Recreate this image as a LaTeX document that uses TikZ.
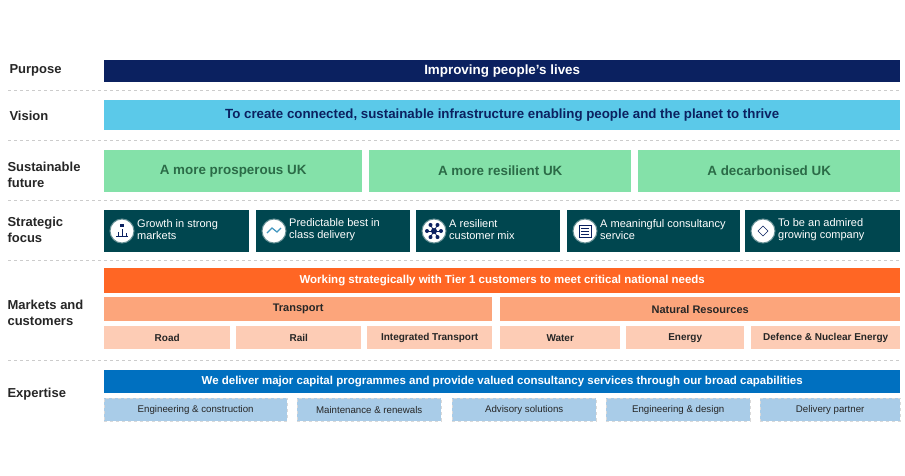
\documentclass[tikz,border=0pt]{standalone}
\usepackage{fontspec}
\setmainfont{Liberation Sans}
\begin{document}
\begin{tikzpicture}[x=1pt,y=-1pt,
 lab/.style={anchor=west,align=left,font=\bfseries\fontsize{13}{16}\selectfont,text=black!85},
 sep/.style={draw=black!20,dashed,line width=0.6pt},
 bx/.style={inner sep=0pt,anchor=north west},
 ic/.style={circle,fill=white,minimum size=24pt,inner sep=0pt,draw=sfc!60!white,line width=1pt}]
\definecolor{sfc}{HTML}{00464F}
\definecolor{navy}{HTML}{0B2160}
\definecolor{vis}{HTML}{5BC9E9}
\definecolor{grn}{HTML}{84E1A9}
\definecolor{grt}{HTML}{2B6B47}
\definecolor{org}{HTML}{FF6624}
\definecolor{or2}{HTML}{FCA57B}
\definecolor{or3}{HTML}{FDCCB5}
\definecolor{blu}{HTML}{0070C0}
\definecolor{lbl}{HTML}{A9CCE8}
\useasboundingbox (0,0) rectangle (905,475);
% labels
\node[lab] (l1) at (6,70) {Purpose};
\node[lab] (l2) at (6,116) {Vision};
\node[lab] (l3) at (4,175) {Sustainable\\future};
\node[lab] (l4) at (4,230) {Strategic\\focus};
\node[lab] (l5) at (4,313) {Markets and\\customers};
\node[lab] (l6) at (4,394) {Expertise};
% separators
\foreach \y/\n in {90/a,140/b,200/c,260/d,360/e}{
 \coordinate (s\n1) at (8,\y); \coordinate (s\n2) at (900,\y);
 \draw[sep] (s\n1) -- (s\n2);}
% purpose
\node[bx,fill=navy,minimum width=796pt,minimum height=22pt,text=white,font=\bfseries\fontsize{13.4}{15}\selectfont] (p) at (104,60) {Improving people's lives};
\node[bx,fill=vis,minimum width=796pt,minimum height=30pt,text=navy,font=\bfseries\fontsize{13.3}{15}\selectfont] (v) at (104,100) {To create connected, sustainable infrastructure enabling people and the planet to thrive};
% sustainable
\foreach \a/\b/\t/\n in {104/362/A more prosperous UK/g1,369/631/A more resilient UK/g2,638/900/A decarbonised UK/g3}{
 \node[bx,fill=grn,minimum width=\b pt-\a pt,minimum height=42pt,text=grt,font=\bfseries\fontsize{13.4}{15}\selectfont] (\n) at (\a,150) {\t};}
% strategic
\foreach \a/\b/\t/\n in {104/249/{Growth in strong\\markets}/f1,256/410/{Predictable best in\\class delivery}/f2,416/560/{A resilient\\customer mix}/f3,567/740/{A meaningful consultancy\\service}/f4,745/900/{To be an admired\\growing company}/f5}{
 \node[bx,fill=sfc,minimum width=\b pt-\a pt,minimum height=42pt] (\n) at (\a,210) {};
 \node[ic] (\n i) at (\a+18,231) {};
 \node[anchor=west,align=left,text=white,inner sep=0pt,font=\fontsize{11}{12}\selectfont] (\n t) at (\a+33,230) {\t};}
% icon glyphs
\draw[navy,line width=0.8pt] ([shift={(-6,5)}]f1i.center) -- ++(12,0) ([shift={(-4,5)}]f1i.center) -- ++(0,-4) ([shift={(0,5)}]f1i.center) -- ++(0,-7) ([shift={(4,5)}]f1i.center) -- ++(0,-3);
\fill[navy] ([shift={(-2,-7)}]f1i.center) rectangle ([shift={(2,-4)}]f1i.center);
\draw[vis!70!navy,line width=1.2pt] ([shift={(-7,2)}]f2i.center) -- ([shift={(-2,-3)}]f2i.center) -- ([shift={(3,1)}]f2i.center) -- ([shift={(7,-3)}]f2i.center);
\foreach \ang in {0,60,...,300}{\draw[navy,line width=0.8pt] (f3i.center) -- ++(\ang:7); \fill[navy] ([shift={(\ang:7)}]f3i.center) circle (2);}
\fill[navy] (f3i.center) circle (3);
\draw[navy,line width=0.7pt] ([shift={(-6,-6)}]f4i.center) rectangle ([shift={(6,6)}]f4i.center);
\foreach \d in {-3,0,3}{\draw[navy,line width=0.5pt] ([shift={(-4,\d)}]f4i.center) -- ++(8,0);}
\draw[navy,line width=0.6pt] ([shift={(0,-5)}]f5i.center) -- ([shift={(5,0)}]f5i.center) -- ([shift={(0,5)}]f5i.center) -- ([shift={(-5,0)}]f5i.center) -- cycle;
% markets
\node[bx,fill=org,minimum width=796pt,minimum height=25pt,text=white,font=\bfseries\fontsize{11.5}{13}\selectfont] (m) at (104,268) {Working strategically with Tier 1 customers to meet critical national needs};
\foreach \a/\b/\t/\n in {104/492/Transport/t1,500/900/Natural Resources/t2}{
 \node[bx,fill=or2,minimum width=\b pt-\a pt,minimum height=24pt,text=black!85,font=\bfseries\fontsize{11}{12}\selectfont] (\n) at (\a,297) {\t};}
\foreach \a/\b/\t/\n in {104/230/Road/r1,236/361/Rail/r2,367/492/Integrated Transport/r3,500/620/Water/r4,626/744/Energy/r5,751/900/Defence \& Nuclear Energy/r6}{
 \node[bx,fill=or3,minimum width=\b pt-\a pt,minimum height=23pt,text=black!85,font=\bfseries\fontsize{10}{11}\selectfont] (\n) at (\a,326) {\t};}
% expertise
\node[bx,fill=blu,minimum width=796pt,minimum height=23pt,text=white,font=\bfseries\fontsize{11.5}{12}\selectfont] (e) at (104,370) {We deliver major capital programmes and provide valued consultancy services through our broad capabilities};
\foreach \a/\b/\t/\n in {104/287/Engineering \& construction/x1,297/441/Maintenance \& renewals/x2,452/596/Advisory solutions/x3,606/750/Engineering \& design/x4,760/900/Delivery partner/x5}{
 \node[bx,fill=lbl,draw=black!15,dashed,minimum width=\b pt-\a pt,minimum height=23pt,text=black!85,font=\fontsize{9.7}{11}\selectfont] (\n) at (\a,398) {\t};}
\end{tikzpicture}
\end{document}
